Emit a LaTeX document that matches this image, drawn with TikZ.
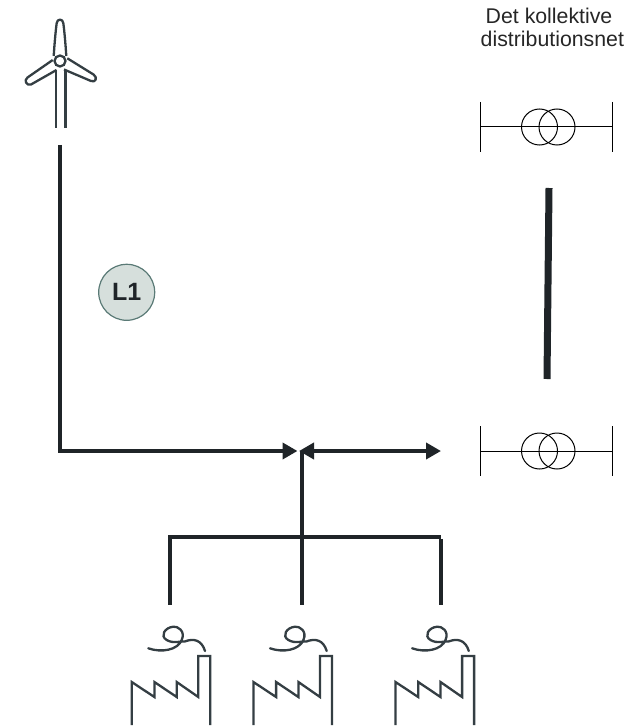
\documentclass[tikz,border=0pt]{standalone}
\usepackage{fontspec}
\setmainfont{Liberation Sans}
\usetikzlibrary{arrows.meta}
\definecolor{ink}{HTML}{1F2428}
\definecolor{icon}{HTML}{343E43}
\definecolor{badgefill}{HTML}{D6DFDC}
\definecolor{badgeline}{HTML}{5A7A76}
\tikzset{
  x=1pt,y=-1pt,
  feeder/.style={draw=ink,line width=3.8pt},
  flow/.style={feeder,-{Triangle[length=15pt,width=16pt]}},
  bar/.style={draw=black,line width=1pt},
  iconline/.style={draw=icon,line width=2.3pt,line join=miter},
  label/.style={anchor=base west,inner sep=0pt,font=\fontsize{21.3pt}{24pt}\selectfont,text=black!85},
  pics/factory/.style={code={
    \draw[iconline] (0,0) -- (0,-43) -- (22.7,-28) -- (22.7,-43) -- (45,-28) -- (45,-43) -- (66.6,-28) -- (66.6,-69) -- (78.6,-69) -- (78.6,0);
    \draw[iconline,line cap=round] (16.6,-76.7) .. controls (30,-72) and (46,-75) .. (50,-85)
      .. controls (54,-94) and (46,-99) .. (41.6,-98.3)
      .. controls (33,-97.5) and (28,-89) .. (35,-85)
      .. controls (42,-81) and (48,-84) .. (53,-83.5)
      .. controls (62,-87) and (70,-85) .. (73.3,-74);
  }},
  pics/transformer/.style={code={
    \draw[bar] (-66,-25) -- (-66,25);
    \draw[bar] (66,-25) -- (66,25);
    \draw[bar] (-66,0) -- (66,0);
    \draw[bar] (-6.5,0) circle[radius=18];
    \draw[bar] (11,0) circle[radius=18];
  }}
}
\begin{document}
\begin{tikzpicture}
\useasboundingbox (0,0) rectangle (636,727);
% turbine
\node[circle,draw=icon,line width=2.3pt,minimum size=11pt,inner sep=0pt] (hub) at (60,61) {};
\draw[iconline,line join=round] (53.7,56) .. controls (54.5,44) and (55.5,32) .. (56.7,23)
   .. controls (57.3,18.5) and (62.7,18.5) .. (63.3,23) .. controls (64.5,32) and (65.5,44) .. (66.3,56);
\draw[iconline,line join=round] (67.3,58.3) -- (93.5,74.5) .. controls (98,77.5) and (95.5,83) .. (91,81) -- (64,69.5);
\draw[iconline,line join=round] (52.7,60) -- (27.5,77.5) .. controls (23.5,80.5) and (26.5,86) .. (31,84.5) -- (56.5,70);
\draw[iconline] (56,70) -- (56,128);
\draw[iconline] (65.5,70) -- (65.5,128);
% junctions
\coordinate (wind) at (60,145);
\coordinate (corner) at (60,451);
\coordinate (hubL) at (297.5,451);
\coordinate (hubR) at (299,451);
\coordinate (hubD) at (302,451);
\coordinate (trafoIn) at (441,451);
\coordinate (busL) at (168,537);
\coordinate (busM) at (302,537);
\coordinate (busR) at (441,537);
\coordinate (f1t) at (170,537);
\coordinate (f3t) at (441,537);
\coordinate (f1) at (170,605);
\coordinate (f2) at (302,605);
\coordinate (f3) at (441,605);
\coordinate (linkA) at (549,188);
\coordinate (linkB) at (547,379);
\draw[feeder] (wind) -- (corner);
\draw[flow] ([xshift=-1.9pt]corner) -- (hubL);
\draw[feeder,{Triangle[length=15pt,width=16pt]}-{Triangle[length=15pt,width=16pt]}] (hubR) -- (trafoIn);
\draw[feeder] (hubD) -- (busM) -- (f2);
\draw[feeder] (busL) -- (busR);
\draw[feeder] ([yshift=-1.9pt]f1t) -- (f1);
\draw[feeder] ([yshift=-1.9pt]f3t) -- (f3);
\draw[draw=ink,line width=7pt] (linkA) -- (linkB);
% transformers
\pic at (546,127) {transformer};
\pic at (546,451) {transformer};
% factories
\pic at (131.7,725) {factory};
\pic at (253.4,725) {factory};
\pic at (395.5,725) {factory};
% labels
\node[circle,fill=badgefill,draw=badgeline,line width=1.2pt,minimum size=56pt,inner sep=0pt,font=\bfseries\fontsize{25pt}{25pt}\selectfont,text=ink] (L1) at (126.7,292.3) {L1};
\node[label] (t1) at (485.5,24) {Det kollektive};
\node[label] (t2) at (480.5,46.7) {distributionsnet};
\end{tikzpicture}
\end{document}
